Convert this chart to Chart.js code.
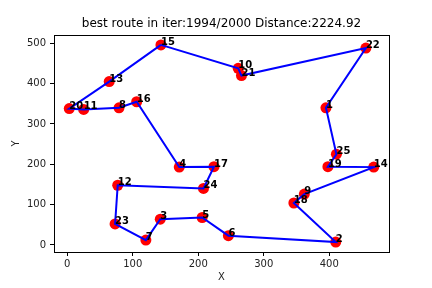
<!DOCTYPE html>
<html>
<head>
<meta charset="utf-8">
<script src="https://cdn.jsdelivr.net/npm/chart.js@4.4.0/dist/chart.umd.min.js"></script>
<style>
  html, body { margin: 0; padding: 0; background: #fff; }
  #wrap { width: 432px; height: 288px; }
</style>
</head>
<body>
<div id="wrap"><canvas id="routeChart" width="432" height="288"></canvas></div>
<script>
// city coordinates, index = city id - 1
var cityIds = [1, 2, 3, 4, 5, 6, 7, 8, 9, 10, 11, 12, 13, 14, 15, 16, 17, 18, 19, 20, 21, 22, 23, 24, 25];
var cityX = [395, 410, 142, 171, 206, 246, 120, 79, 362, 261, 25, 77, 64, 468, 143, 106, 224, 346, 398, 3, 266, 456, 73, 208, 411];
var cityY = [340, 7, 64, 193, 68, 23, 12, 340, 126, 438, 336, 148, 405, 193, 496, 355, 194, 104, 194, 338, 420, 488, 52, 140, 225];

// best route (closed tour)
var route = [15, 10, 21, 22, 1, 25, 19, 14, 9, 18, 2, 6, 5, 3, 7, 23, 12, 24, 17, 4, 16, 8, 11, 20, 13, 15];

var xTicks = [0, 100, 200, 300, 400];
var yTicks = [0, 100, 200, 300, 400, 500];

var chartTitle = 'best route in iter:1994/2000 Distance:2224.92';

var cityPoints = cityIds.map(function (id, i) { return {x: cityX[i], y: cityY[i]}; });
var routePoints = route.map(function (id) { return {x: cityX[id - 1], y: cityY[id - 1]}; });

var fontFam = "'DejaVu Sans', sans-serif";

// box around plot, title centred on plot, city labels
var framePlugin = {
    id: 'frame',
    afterDatasetsDraw: function (chart) {
        var ctx = chart.ctx, a = chart.chartArea;
        var xs = chart.scales.x, ys = chart.scales.y;
        ctx.save();
        ctx.fillStyle = '#000';
        ctx.font = 'bold 10px ' + fontFam;
        ctx.textAlign = 'left';
        ctx.textBaseline = 'alphabetic';
        cityIds.forEach(function (id, i) {
            ctx.fillText(String(id), xs.getPixelForValue(cityX[i]), ys.getPixelForValue(cityY[i]));
        });
        ctx.strokeStyle = '#000';
        ctx.lineWidth = 1;
        ctx.strokeRect(Math.round(a.left) + 0.5, Math.round(a.top) + 0.5,
            Math.round(a.right - a.left), Math.round(a.bottom - a.top));

        ctx.font = '12px ' + fontFam;
        ctx.textAlign = 'center';
        ctx.textBaseline = 'middle';
        ctx.fillText(chartTitle, (a.left + a.right) / 2, 24);
        ctx.restore();
    }
};

var ctx = document.getElementById('routeChart').getContext('2d');
var routeChart = new Chart(ctx, {
    type: 'scatter',
    data: {
        datasets: [{
            label: 'route',
            data: routePoints,
            showLine: true,
            borderColor: '#0000ff',
            borderWidth: 2,
            pointRadius: 0,
            fill: false,
            order: 0
        }, {
            label: 'cities',
            data: cityPoints,
            backgroundColor: '#ff0000',
            borderColor: '#ff0000',
            pointRadius: 5.5,
            borderWidth: 0,
            order: 1
        }]
    },
    options: {
        responsive: false,
        animation: false,
        layout: {
            padding: {left: 0, right: 43, top: 35, bottom: 0}
        },
        plugins: {
            legend: {display: false},
            tooltip: {enabled: false},
            title: {display: false}
        },
        scales: {
            x: {
                type: 'linear',
                min: -20.3,
                max: 491.3,
                afterBuildTicks: function (s) { s.ticks = xTicks.map(function (v) { return {value: v}; }); },
                afterFit: function (s) { s.height = 36; },
                grid: {drawOnChartArea: false, drawTicks: true, tickLength: 4, color: '#000'},
                border: {color: '#000'},
                ticks: {color: '#222', padding: 2, font: {family: fontFam, size: 10}, maxRotation: 0},
                title: {display: true, text: 'X', color: '#222', font: {family: fontFam, size: 10}, padding: {top: 0, bottom: 5}}
            },
            y: {
                type: 'linear',
                min: -17.5,
                max: 520.5,
                afterBuildTicks: function (s) { s.ticks = yTicks.map(function (v) { return {value: v}; }); },
                afterFit: function (s) { s.width = 54; },
                grid: {drawOnChartArea: false, drawTicks: true, tickLength: 4, color: '#000'},
                border: {color: '#000'},
                ticks: {color: '#222', padding: 4, font: {family: fontFam, size: 10}},
                title: {display: true, text: 'Y', color: '#222', font: {family: fontFam, size: 10}, padding: {top: 10, bottom: 0}}
            }
        }
    },
    plugins: [framePlugin]
});
</script>
</body>
</html>
